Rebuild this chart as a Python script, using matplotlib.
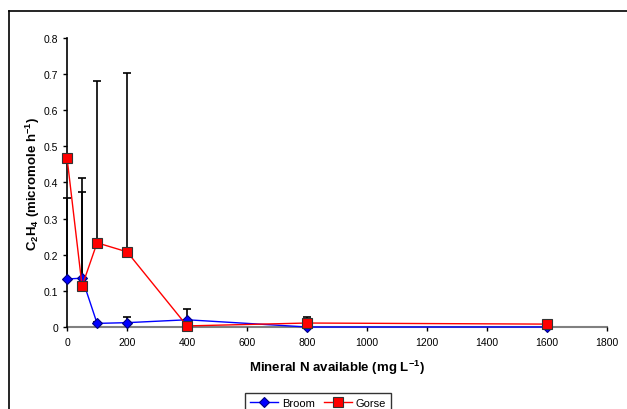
import matplotlib
matplotlib.use("Agg")
import matplotlib.pyplot as plt
from matplotlib.lines import Line2D

plt.rcParams['font.family'] = ['Liberation Sans', 'DejaVu Sans']
plt.rcParams['mathtext.fontset'] = 'custom'
plt.rcParams['mathtext.rm'] = 'Liberation Sans:bold'
plt.rcParams['mathtext.it'] = 'Liberation Sans:bold'
plt.rcParams['mathtext.bf'] = 'Liberation Sans:bold'
plt.rcParams['mathtext.default'] = 'rm'

n_levels = [0, 50, 100, 200, 400, 800, 1600]
broom = [0.133, 0.135, 0.010, 0.012, 0.020, 0.0, 0.0]
broom_err = [0.224, 0.240, 0.005, 0.015, 0.030, 0.0, 0.0]
gorse = [0.467, 0.113, 0.233, 0.208, 0.003, 0.011, 0.008]
gorse_err = [0.0, 0.300, 0.449, 0.494, 0.0, 0.017, 0.006]
xticks = [0, 200, 400, 600, 800, 1000, 1200, 1400, 1600, 1800]
yticks = [0, 0.1, 0.2, 0.3, 0.4, 0.5, 0.6, 0.7, 0.8]

fig = plt.figure(figsize=(6.27, 4.10), dpi=100)
ax = fig.add_axes([0.107, 0.2, 0.861, 0.705])

zeros = [0] * len(n_levels)
for vals, errs in [(broom, broom_err), (gorse, gorse_err)]:
    eb = ax.errorbar(n_levels, vals, yerr=[zeros, errs], fmt='none', ecolor='black',
                     elinewidth=1.2, capsize=3, capthick=1.2, zorder=2)
    for art in eb.lines[1] + eb.lines[2]:
        art.set_clip_on(False)
ax.plot(n_levels, broom, color='#0000FF', lw=1, marker='D', markersize=5.5,
        markerfacecolor='#0000FF', markeredgecolor='#000080', markeredgewidth=0.8,
        label='Broom', zorder=3, clip_on=False)
ax.plot(n_levels, gorse, color='#FF0000', lw=1, marker='s', markersize=7,
        markerfacecolor='#FF0000', markeredgecolor='#333333', markeredgewidth=0.8,
        label='Gorse', zorder=4, clip_on=False)

ax.set_xlim(0, 1800)
ax.set_ylim(0, 0.8)
ax.set_xticks(xticks)
ax.set_xticklabels([str(v) for v in xticks])
ax.set_yticks(yticks)
ax.set_yticklabels(['0' if v == 0 else f'{v:.1f}' for v in yticks])
ax.tick_params(axis='both', labelsize=7.5, direction='out', length=3, width=1, colors='black')
ax.tick_params(axis='x', pad=4)
for s in ['top', 'right']:
    ax.spines[s].set_visible(False)
ax.spines['left'].set_linewidth(1.2)
ax.spines['bottom'].set_linewidth(1.5)
ax.spines['bottom'].set_color('#808080')
ax.spines['bottom'].set_zorder(1)

ax.set_xlabel('Mineral N available (mg L$^{-1}$)', fontsize=9.5, fontweight='bold', labelpad=8)
ax.set_ylabel('C$_2$H$_4$ (micromole h$^{-1}$)', fontsize=9.5, fontweight='bold', labelpad=1)

leg = fig.legend(loc='upper center', bbox_to_anchor=(0.507, 0.052), ncol=2, fontsize=8,
                 frameon=True, fancybox=False, edgecolor='black', handlelength=2.6,
                 handletextpad=0.3, columnspacing=0.8, borderpad=0.4)
leg.get_frame().set_linewidth(1)

fig.add_artist(Line2D([9/627, 1.0], [1 - 12/410, 1 - 12/410], color='black', lw=1.2,
                      transform=fig.transFigure))
fig.add_artist(Line2D([9/627, 9/627], [0, 1 - 12/410], color='black', lw=1.2,
                      transform=fig.transFigure))

fig.savefig('out.png', dpi=100)
